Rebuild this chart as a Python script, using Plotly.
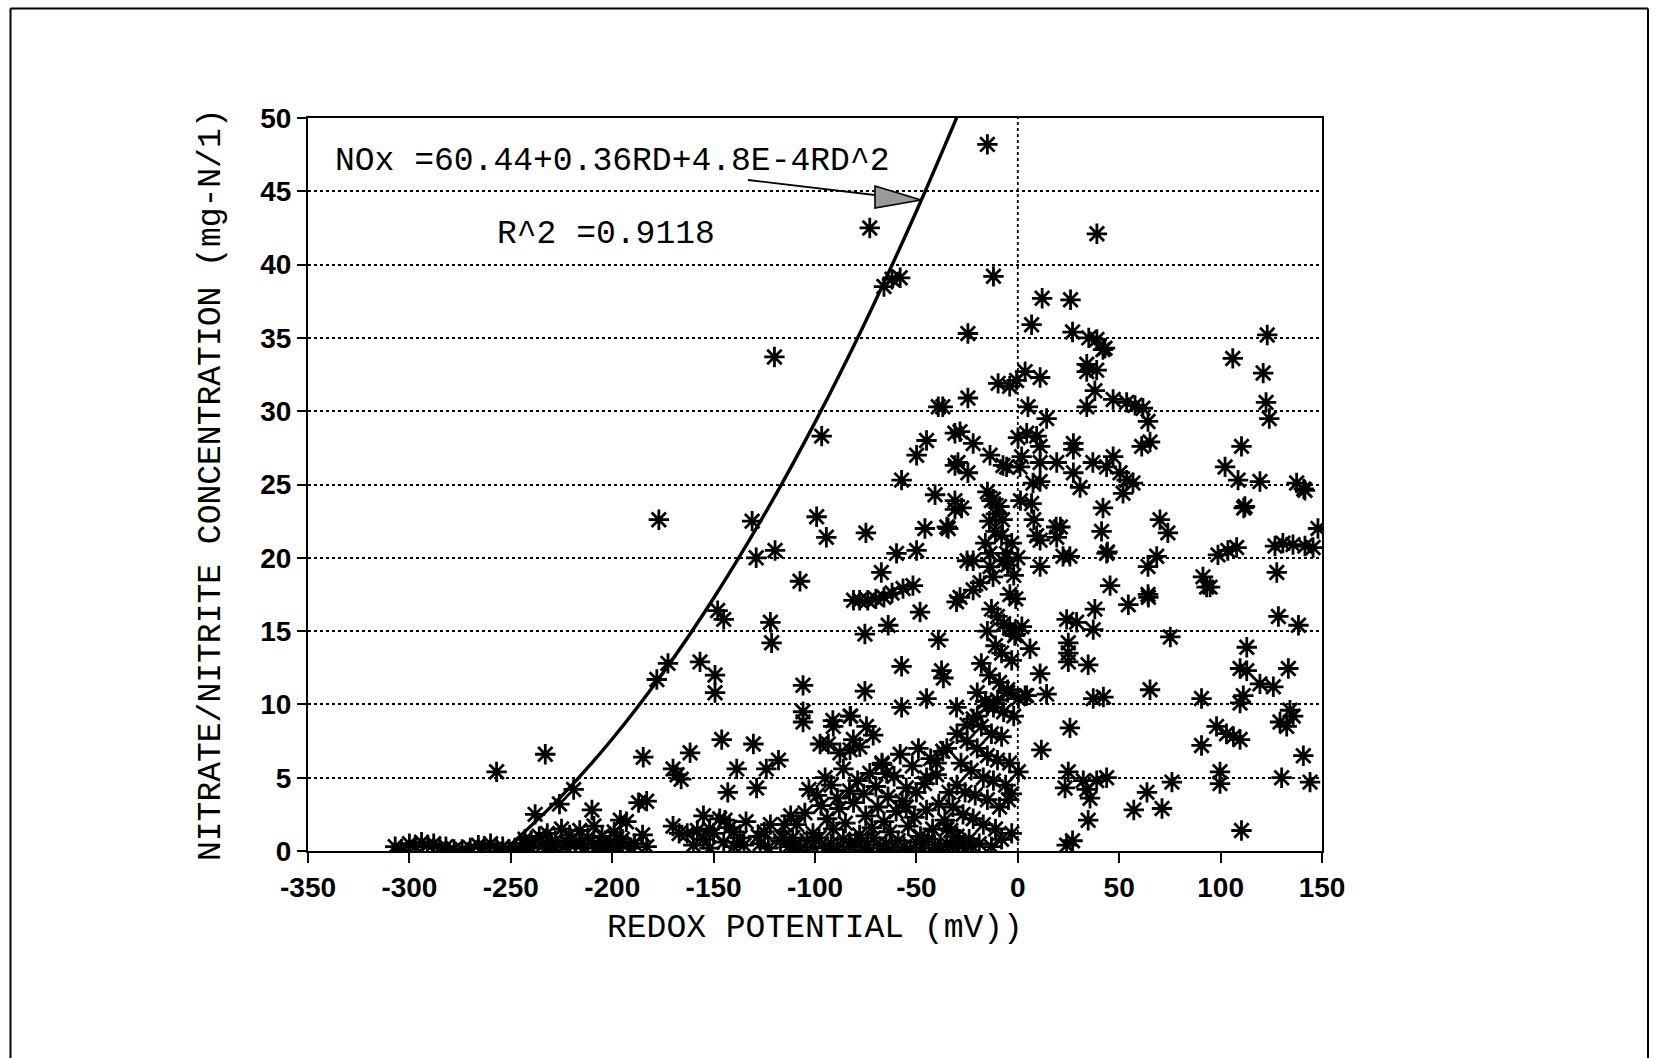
import plotly.graph_objects as go

# ---------------- data ----------------
# fitted curve
curve_x = [-250, -225, -200, -175, -150, -125, -100, -75, -50, -30]
curve_y = [0.44, 3.74, 7.64, 12.14, 17.24, 22.94, 29.24, 36.14, 43.64, 50.07]

# far-left low band
band_left_x = [-307, -304, -300, -297, -294, -291, -288, -285, -282, -278, -274, -270, -266, -263, -260, -257, -254, -251, -248, -257, -233]
band_left_y = [0.3, 0.1, 0.5, 0.3, 0.6, 0.4, 0.5, 0.2, 0.3, 0.1, 0.1, 0.2, 0.4, 0.3, 0.5, 0.2, 0.3, 0.1, 0.2, 5.4, 6.6]

# points near the curve foot, -248 .. -183
foot_x = [-245, -243, -240, -238, -236, -234, -232, -230, -228, -226, -225, -223, -221, -219, -218, -216, -214, -212, -210, -209,
          -207, -205, -203, -201, -199, -197, -195, -193, -191, -189, -187, -185, -183, -230, -222, -215, -206, -200, -196, -245, -240]
foot_y = [0.3, 0.8, 0.2, 2.5, 1.0, 0.4, 1.2, 0.1, 0.7, 3.2, 1.5, 0.3, 1.1, 4.2, 0.5, 1.4, 0.2, 0.9, 2.8, 1.7,
          0.4, 1.0, 0.2, 0.6, 1.3, 0.3, 0.8, 2.0, 0.2, 0.5, 3.3, 1.1, 0.3, 0.5, 0.6, 0.5, 0.3, 0.1, 0.6, 0.1, 0.7]

# -185 .. -110
mid_left_x = [-184.7, -183, -178, -177, -172.5, -170, -168, -166, -163, -161.6, -160, -158, -156.7, -155, -152, -150, -149.3, -149.3,
              -148, -145, -147, -145, -143, -142, -140, -138.6, -137, -135, -131, -130.4, -129, -128.8, -127, -125, -124, -123,
              -122, -121.4, -120, -119.7, -118, -117, -115, -113, -111, -146, -196, -170, -167, -155, -152, -144.4, -140, -134,
              -128, -122, -116, -112]
mid_left_y = [6.4, 3.4, 11.7, 22.6, 12.8, 5.6, 5.2, 4.9, 1.2, 6.7, 0.4, 1.4, 12.9, 0.8, 0.2, 1.2, 12.0, 10.8,
              16.4, 15.8, 2.2, 0.6, 4.0, 1.6, 0.3, 5.6, 0.9, 0.4, 22.5, 7.3, 20.0, 4.3, 0.5, 1.3, 5.6, 0.2,
              15.6, 14.2, 33.7, 20.5, 6.2, 0.7, 1.8, 0.3, 0.9, 7.6, 2.1, 1.7, 1.2, 2.4, 1.5, 2.1, 1.3, 2.0,
              1.0, 1.8, 0.9, 2.4]

# -110 .. -30, upper scattered points
mid_upper_x = [-107.4, -105.9, -105.9, -105.9, -99.2, -96.7, -94.4, -97.5, -91, -82.7, -74.6, -71.3, -81.1, -87.7, -82.7,
               -75.4, -75.4, -74.9, -73, -81, -78, -74, -70, -66, -62, -67.3, -63.9, -59.8, -57.3, -57.3, -57.3, -56.6,
               -51.7, -49.9, -49.9, -48.2, -45, -45, -45.8, -40.8, -39.2, -39.2, -37.6, -36.7, -34.3, -31, -31, -31,
               -30.2, -30.2, -66, -62, -58, -64.7, -66.9, -93.4, -91.2, -82.4, -77.9]
mid_upper_y = [18.4, 11.3, 9.5, 8.8, 22.8, 28.3, 21.4, 7.3, 8.5, 9.2, 8.5, 7.9, 7.6, 6.7, 6.9,
               14.8, 10.9, 21.7, 42.5, 17.1, 17.1, 17.1, 17.2, 17.3, 17.6, 19.0, 15.4, 20.3, 25.3, 12.6, 9.8, 17.9,
               18.1, 20.5, 27.0, 16.3, 28.0, 10.4, 22.0, 24.3, 30.3, 14.4, 12.3, 11.8, 22.0, 28.5, 26.3, 23.3,
               17.0, 9.8, 38.5, 39.0, 39.1, 5.3, 5.9, 7.3, 8.9, 9.2, 7.1]

# -110 .. -20 low cloud
cloud_a_x = [-110, -107, -104, -101, -98, -95, -92, -89, -86, -83, -80, -77, -74, -71, -68, -65, -62, -59, -56, -53,
             -50, -47, -44, -41, -38, -35, -32, -29, -26, -23]
cloud_a_y = [0.4, 0.1, 0.7, 0.3, 0.9, 0.2, 0.5, 0.1, 0.8, 0.3, 0.6, 0.1, 0.4, 0.9, 0.2, 0.5, 0.1, 0.7, 0.3, 0.0,
             0.6, 0.2, 0.8, 0.4, 0.1, 0.5, 0.3, 0.7, 0.2, 0.4]
cloud_b_x = [-109, -105, -101, -97, -94, -91, -88, -85, -81, -78, -75, -72, -69, -66, -63, -60, -57, -54, -51, -48,
             -45, -42, -39, -36, -33]
cloud_b_y = [1.8, 2.6, 1.2, 3.1, 2.2, 1.5, 2.9, 1.9, 3.3, 1.1, 2.4, 1.6, 3.0, 2.0, 1.3, 2.7, 3.4, 1.7, 2.3, 1.0,
             2.8, 1.5, 3.2, 2.1, 1.4]
cloud_c_x = [-103, -99, -95, -92, -89, -86, -83, -79, -76, -73, -70, -67, -64, -61, -58, -55, -52, -49, -46, -43,
             -40, -37, -34]
cloud_c_y = [4.2, 3.8, 5.0, 4.5, 3.6, 5.6, 4.1, 4.8, 3.9, 5.3, 4.4, 6.0, 3.7, 5.1, 6.6, 4.3, 5.8, 7.0, 4.6, 6.3,
             5.2, 6.8, 4.0]

# -40 .. 0 column
column_x = [-18.6, -22, -28.5, -3.9, -25, -22, -13.7, -7.3, -5.5, -13.7, -12.2, -31, -27.7, -35, -28.5, -22, -13.7, -7.3,
            -5.5, -29.5, -24.6, -24.6, -24.6, -37, 3.6, -0.6, -4, -9.7, -12, -15, -13, -10.8, -7.5, 1.3,
            -15, -12, -9, -14, -11, -8, -3, -16, -13, -10, -7, -4, -1, -15, -11, -8, -3, -18, -14, -9, -5,
            -20, -16, -12, -7, -2, -22, -18, -13, -8, -25, -20, -15, -10, -4, -28, -23, -17, -12, -6, -30, -26,
            -21, -15, -9, -32, -27, -22, -17, -11, -35, -30, -24, -19, -13, -8, -3,
            0.3, -3, -4.6, 3.6, 0.3, 6, -1.5, 2, -1, -2, -5, 0,
            -55, -50, -45, -40, -35, -30, -25, -20, -15, -10, -5]
column_y = [18.3, 17.8, 17.3, 17.5, 19.8, 19.8, 19.4, 19.8, 20.3, 20.3, 18.7, 23.9, 23.4, 22.1, 28.6, 27.8, 27.0, 26.3,
            26.2, 26.5, 25.8, 35.3, 30.9, 30.3, 32.7, 32.1, 31.7, 31.9, 39.2, 48.2, 23.9, 23.0, 22.6, 23.9,
            24.5, 24.0, 23.5, 22.5, 21.8, 21.5, 21.0, 21.0, 16.5, 16.0, 15.5, 15.2, 14.8, 15.0, 14.0, 13.5, 13.0, 12.8, 12.0, 11.5, 11.0,
            10.8, 10.2, 9.8, 9.5, 9.2, 9.0, 8.5, 8.0, 7.8, 7.5, 7.0, 6.5, 6.2, 6.0, 6.0, 5.5, 5.0, 4.8, 4.5, 4.5, 4.0,
            3.8, 3.5, 3.0, 3.0, 2.5, 2.2, 1.8, 1.5, 1.5, 1.0, 0.8, 0.5, 0.3, 0.8, 1.2,
            5.4, 3.9, 3.5, 10.6, 10.4, 13.8, 14.7, 15.3, 17.2, 18.8, 19.5, 20.0,
            3.0, 4.0, 5.0, 6.0, 7.0, 8.0, 8.6, 9.2, 9.9, 10.3, 10.8]

# 0 .. 76
center_right_x = [6.8, 11, 5, 14.2, 0.1, 4.4, 9.3, 11, 1.9, 1.1, 27.4, 27.4, 11, 19.2, 27.4, 30.7, 37, 43.8, 47, 50.4,
                  53.7, 56.8, 51.9, 7.5, 11, 42, 41.3, 43.8, 45.5, 21, 19.2, 11, 9.3, 22.3, 25.7, 11, 64.2, 68.5,
                  64.2, 54.5, 64.4, 12, 26, 27, 35, 39, 43, 34, 38.9, 34, 42, 38, 34, 47, 53.7, 57.8, 61.7, 64.2,
                  65.2, 61.1, 70.1, 74, 6.8, 7.9, 18.9, 24.1, 29, 38, 37.2, 24.9, 24.9, 24.9, 34.7, 11, 14.2,
                  4.4, 37.2, 42.2, 25.7, 11.6, 24.9, 23.3, 34, 38.9, 43.8, 32.3, 35.6, 34.7, 24.1, 27, 63.7,
                  57.2, 71.1, 65.2, 75.2, 76, 39, 44.2]
center_right_y = [35.9, 32.3, 30.3, 29.5, 28.2, 28.5, 28.3, 27.6, 26.9, 26.2, 27.8, 27.4, 26.5, 26.5, 25.8, 24.8, 26.5, 26.2, 26.9, 25.8,
                  25.3, 25.1, 24.4, 25.1, 25.2, 23.4, 21.8, 20.3, 18.1, 22.1, 21.4, 21.2, 21.5, 20.1, 20.1, 19.4, 19.4, 20.1,
                  17.5, 16.8, 17.3, 37.7, 37.6, 35.4, 35.0, 34.9, 34.3, 33.2, 32.8, 32.7, 34.2, 31.4, 30.3, 30.8, 30.6, 30.4, 30.2, 29.3,
                  27.9, 27.6, 22.6, 21.7, 23.7, 22.6, 22.1, 15.8, 15.6, 16.5, 15.1, 14.2, 13.5, 12.9, 12.7, 12.1, 10.7,
                  10.6, 10.4, 10.5, 8.4, 6.9, 5.4, 4.3, 4.2, 4.8, 5.0, 4.8, 3.6, 2.1, 0.4, 0.7, 4.0,
                  2.8, 2.9, 11.0, 14.6, 4.7, 42.1, 20.4]

# 90 .. 150
right_x = [123, 106, 121, 122.4, 124, 110.3, 102.2, 108.6, 119.4, 137.5, 141.6, 112, 148, 145.6, 141.6, 135.7, 130.7, 126.8,
           107.9, 103.6, 98.7, 127.7, 91.3, 94.8, 93.1, 128.5, 138.4, 112.9, 109.6, 112.9, 133.4, 119.4, 126, 111.2, 109.6,
           90.6, 134.2, 135.8, 129.3, 132.6, 98, 102.9, 109.6, 106.3, 90.6, 140.8, 99.7, 99.7, 130.1, 144.1, 110.3, 111.4, 141]
right_y = [35.2, 33.6, 32.6, 30.6, 29.5, 27.6, 26.2, 25.3, 25.2, 25.1, 24.6, 23.5, 22.0, 20.7, 20.8, 20.9, 21.0, 20.8,
           20.7, 20.5, 20.2, 19.0, 18.7, 18.0, 18.0, 16.0, 15.4, 13.9, 12.45, 12.3, 12.45, 11.4, 11.2, 10.6, 10.1,
           10.4, 9.6, 9.2, 8.8, 8.5, 8.5, 8.0, 7.6, 7.8, 7.2, 6.5, 5.4, 4.6, 5.0, 4.7, 1.4, 23.4, 24.7]

x_ticks = [-350, -300, -250, -200, -150, -100, -50, 0, 50, 100, 150]
x_tick_labels = ["-350", "-300", "-250", "-200", "-150", "-100", "-50", "0", "50", "100", "150"]
y_ticks = [0, 5, 10, 15, 20, 25, 30, 35, 40, 45, 50]

# ---------------- assemble ----------------
xs = band_left_x + foot_x + mid_left_x + mid_upper_x + cloud_a_x + cloud_b_x + cloud_c_x + column_x + center_right_x + right_x
ys = band_left_y + foot_y + mid_left_y + mid_upper_y + cloud_a_y + cloud_b_y + cloud_c_y + column_y + center_right_y + right_y

L, R, T, B = 308, 335, 118, 207
W, H = 1657, 1058
PW, PH = W - L - R, H - T - B


def px(xp):
    return (xp - L) / PW


def py(yp):
    return (H - B - yp) / PH


mono = "Liberation Mono, Courier New, monospace"
sans = "Liberation Sans, Arial, sans-serif"

fig = go.Figure()
fig.add_trace(go.Scatter(
    x=xs, y=ys, mode="markers",
    marker=dict(symbol="asterisk-open", size=17, color="black", line=dict(color="black", width=2.8)),
    showlegend=False, cliponaxis=True))
fig.add_trace(go.Scatter(
    x=curve_x, y=curve_y, mode="lines", line=dict(color="black", width=3.4, shape="spline"),
    showlegend=False))

axis_common = dict(showline=True, linecolor="black", linewidth=2, mirror=True, ticks="outside",
                   tickcolor="black", tickwidth=2, zeroline=False,
                   tickfont=dict(family=sans, size=28, color="black", weight="bold"))

fig.update_xaxes(range=[-350, 150], tickvals=x_ticks, ticktext=x_tick_labels, ticklen=10, showgrid=False, **axis_common)
fig.update_yaxes(range=[0, 50], tickvals=y_ticks, ticklen=9, showgrid=True, gridcolor="black",
                 griddash="dot", gridwidth=2, **axis_common)

shapes = [
    dict(type="line", xref="x", yref="paper", x0=0, x1=0, y0=0, y1=1,
         line=dict(color="black", width=1.8, dash="dot"), layer="below"),
    # page frame (left, top, right)
    dict(type="line", xref="paper", yref="paper", x0=px(10.5), x1=px(10.5), y0=py(1060), y1=py(8.5),
         line=dict(color="black", width=2)),
    dict(type="line", xref="paper", yref="paper", x0=px(10.5), x1=px(1648), y0=py(8.5), y1=py(8.5),
         line=dict(color="black", width=2)),
    dict(type="line", xref="paper", yref="paper", x0=px(1648), x1=px(1648), y0=py(8.5), y1=py(1060),
         line=dict(color="black", width=2)),
    # annotation arrow: shaft and shaded head
    dict(type="line", xref="paper", yref="paper", x0=px(748), y0=py(180), x1=px(900), y1=py(198),
         line=dict(color="black", width=1.8)),
    dict(type="path", xref="paper", yref="paper",
         path="M {:.5f},{:.5f} L {:.5f},{:.5f} L {:.5f},{:.5f} Z".format(px(875), py(186), px(921), py(200), px(875), py(208)),
         fillcolor="#9a9a9a", line=dict(color="black", width=1.6)),
]

annotations = [
    dict(text="REDOX POTENTIAL (mV))", xref="paper", yref="paper", x=0.5, y=py(928),
         xanchor="center", yanchor="middle", showarrow=False, font=dict(family=mono, size=33, color="black")),
    dict(text="NITRATE/NITRITE CONCENTRATION (mg-N/1)", xref="paper", yref="paper", x=px(211), y=py(485),
         xanchor="center", yanchor="middle", textangle=-90, showarrow=False,
         font=dict(family=mono, size=33, color="black")),
    dict(text="NOx =60.44+0.36RD+4.8E-4RD^2", xref="paper", yref="paper", x=px(333), y=py(162),
         xanchor="left", yanchor="middle", showarrow=False, font=dict(family=mono, size=33, color="black")),
    dict(text="R^2 =0.9118", xref="paper", yref="paper", x=px(495), y=py(235),
         xanchor="left", yanchor="middle", showarrow=False, font=dict(family=mono, size=33, color="black")),
]

fig.update_layout(width=W, height=H, margin=dict(l=L, r=R, t=T, b=B),
                  paper_bgcolor="white", plot_bgcolor="white",
                  shapes=shapes, annotations=annotations, showlegend=False)

fig.write_html("out.html")
